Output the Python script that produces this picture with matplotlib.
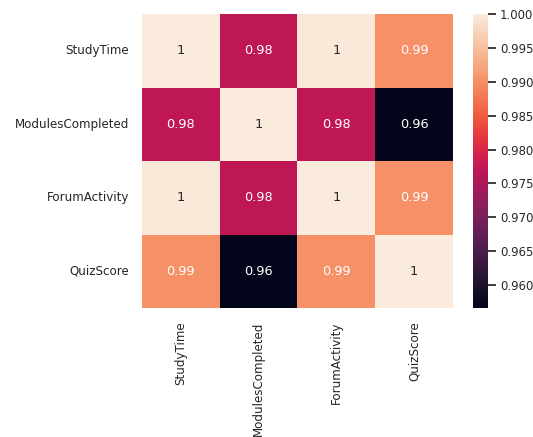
import matplotlib
matplotlib.use("Agg")
import matplotlib.pyplot as plt
import seaborn as sns
import numpy as np
import pandas as pd

sns.set_theme(rc={"xtick.labelsize": 8.55, "ytick.labelsize": 8.55, "font.size": 9.3})

metrics = ["StudyTime", "ModulesCompleted", "ForumActivity", "QuizScore"]

# Pairwise correlation coefficients, one row per metric
study_time = [1.0, 0.977, 0.9995, 0.990]
modules_completed = [0.977, 1.0, 0.977, 0.9566]
forum_activity = [0.9995, 0.977, 1.0, 0.990]
quiz_score = [0.990, 0.9566, 0.990, 1.0]

corr = pd.DataFrame(
    [study_time, modules_completed, forum_activity, quiz_score],
    index=metrics, columns=metrics,
)

fig = plt.figure(figsize=(5.33, 4.37), dpi=100)
ax = fig.add_axes([0.2664, 0.295, 0.5835, 0.673])
cax = fig.add_axes([0.8874, 0.295, 0.0281, 0.673])

sns.heatmap(corr, annot=True, annot_kws={"fontsize": 9.3}, ax=ax, cbar_ax=cax)
cax.tick_params(labelsize=8.4, pad=2.5)

fig.savefig("out.png", dpi=100)
